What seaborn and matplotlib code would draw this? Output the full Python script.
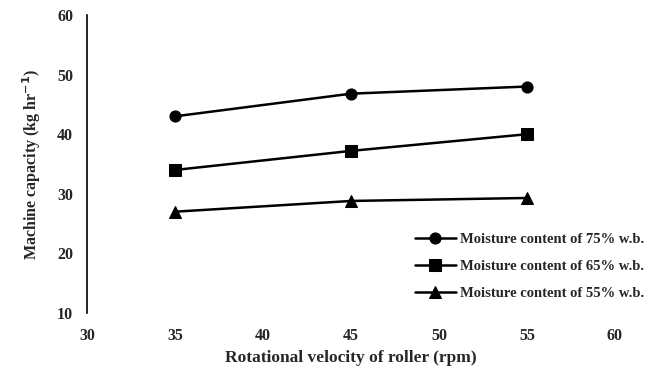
import matplotlib
matplotlib.use("Agg")
import matplotlib.pyplot as plt
import seaborn as sns
import pandas as pd

speeds = [35, 45, 55]
mc75 = [43.0, 46.8, 48.0]
mc65 = [34.0, 37.2, 40.0]
mc55 = [27.0, 28.8, 29.3]
labels = ["Moisture content of 75% w.b.",
          "Moisture content of 65% w.b.",
          "Moisture content of 55% w.b."]

rows = []
for lab, vals in zip(labels, [mc75, mc65, mc55]):
    for s, v in zip(speeds, vals):
        rows.append({"speed": s, "cap": v, "series": lab})
df = pd.DataFrame(rows)

sns.set_style("white")
plt.rcParams['font.family'] = ['Liberation Serif', 'DejaVu Serif']
plt.rcParams['font.weight'] = 'bold'

fig = plt.figure(figsize=(6.46, 3.75), dpi=100)
ax = fig.add_axes([0.1347, 0.1653, 0.952 - 0.1347, 0.96 - 0.1653])

sns.lineplot(data=df, x="speed", y="cap", hue="series", style="series",
             palette=["black"] * 3, markers=["o", "s", "^"], dashes=False,
             linewidth=1.8, markersize=8, markeredgecolor="black", ax=ax)

ax.set_xlim(30, 60)
ax.set_ylim(10, 60)
ax.set_xticks([30, 35, 40, 45, 50, 55, 60])
ax.set_yticks([10, 20, 30, 40, 50, 60])
for s in ["top", "right", "bottom"]:
    ax.spines[s].set_visible(False)
ax.spines["left"].set_color("black")
ax.spines["left"].set_linewidth(1.2)
ax.tick_params(axis="y", direction="out", length=4, width=1, color="black",
               labelsize=11.5, pad=6)
ax.tick_params(axis="x", direction="out", length=5, width=0.8, color="#999999",
               labelsize=11.5, pad=6)
for t in ax.get_xticklabels() + ax.get_yticklabels():
    t.set_fontweight("bold")
ax.set_xlabel("Rotational velocity of roller (rpm)", fontsize=12.5, fontweight="bold", labelpad=4)
ax.set_ylabel("Machine capacity (kg hr$^{-1}$)", fontsize=11.5, fontweight="bold", labelpad=10)

leg = ax.legend(loc="lower right", bbox_to_anchor=(1.08, -0.0), frameon=False,
                prop={"family": "Liberation Serif", "weight": "bold", "size": 10.5},
                handlelength=2.8, labelspacing=0.95, handletextpad=0.3)

fig.savefig("out.png", dpi=100)
